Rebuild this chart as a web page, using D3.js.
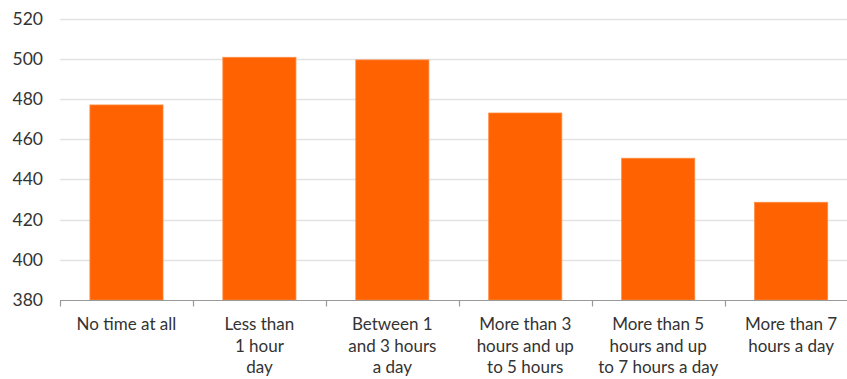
<!DOCTYPE html>
<html>
<head>
<meta charset="utf-8">
<script src="https://cdn.jsdelivr.net/npm/d3@7"></script>
<style>
html, body { margin: 0; padding: 0; background: #fff; overflow: hidden; }
svg { display: block; }
text { font-family: Lato, "Noto Sans", sans-serif; fill: #333; }
</style>
</head>
<body>
<script>
var width = 847, height = 379;
// Category labels, one array of lines per bar
var categories = [
	['No time at all'],
	['Less than', '1 hour', 'day'],
	['Between 1', 'and 3 hours', 'a day'],
	['More than 3', 'hours and up', 'to 5 hours'],
	['More than 5', 'hours and up', 'to 7 hours a day'],
	['More than 7', 'hours a day']
];
var values = [477, 500.7, 499.4, 473, 450.5, 428.6];
var yTicks = [380, 400, 420, 440, 460, 480, 500, 520];

//The plot runs a little past the right edge of the picture, as in the original.
var margin = {top: 18.5, left: 60, bottom: 79};
var plotRight = 857.6;
var innerHeight = height - margin.top - margin.bottom;

var svg = d3.select('body').append('svg')
	.attr('width', width)
	.attr('height', height);

var xScale = d3.scaleBand()
	.domain(d3.range(values.length))
	.range([margin.left, plotRight])
	.paddingInner(0.45)
	.paddingOuter(0.225);
var yScale = d3.scaleLinear()
	.domain([380, 520])
	.range([margin.top + innerHeight, margin.top]);

//Horizontal gridlines
svg.append('g').selectAll('line')
	.data(yTicks.slice(1))
	.enter().append('line')
	.attr('x1', margin.left)
	.attr('x2', width)
	.attr('y1', function(d) { return Math.round(yScale(d)) + 0.5; })
	.attr('y2', function(d) { return Math.round(yScale(d)) + 0.5; })
	.style('stroke', '#e2e2e2')
	.style('stroke-width', '1.5px');

//Y tick labels, no axis line
var yAxis = svg.append('g')
	.attr('transform', 'translate(' + margin.left + ',0)')
	.call(d3.axisLeft(yScale).tickValues(yTicks).tickSize(0).tickPadding(17));
yAxis.select('.domain').remove();
yAxis.selectAll('text')
	.style('font-size', '17.5px')
	.style('font-family', 'Lato, "Noto Sans", sans-serif')
	.style('fill', '#333');

//Bars
svg.append('g').selectAll('rect')
	.data(values)
	.enter().append('rect')
	.attr('x', function(d, i) { return xScale(i); })
	.attr('y', function(d) { return yScale(d); })
	.attr('width', xScale.bandwidth())
	.attr('height', function(d) { return yScale(380) - yScale(d); })
	.style('fill', '#ff6200')
	.style('stroke', '#ff8a40')
	.style('stroke-width', '0.8px');

//X axis line with tick marks at band boundaries
var baseY = Math.round(yScale(380)) + 0.5;
var step = xScale.step();
var bounds = d3.range(values.length + 1).map(function(i) { return margin.left + i * step; });
svg.append('line')
	.attr('x1', margin.left).attr('x2', width)
	.attr('y1', baseY).attr('y2', baseY)
	.style('stroke', '#999').style('stroke-width', '1.2px');
svg.append('g').selectAll('line')
	.data(bounds)
	.enter().append('line')
	.attr('x1', function(d) { return Math.round(d) + 0.5; })
	.attr('x2', function(d) { return Math.round(d) + 0.5; })
	.attr('y1', baseY).attr('y2', baseY + 6)
	.style('stroke', '#999').style('stroke-width', '1.2px');

//Category labels: one text element per line
var lines = [];
categories.forEach(function(c, i) {
	c.forEach(function(s, j) { lines.push({i: i, j: j, text: s}); });
});
svg.append('g').selectAll('text')
	.data(lines)
	.enter().append('text')
	.attr('text-anchor', 'middle')
	.style('font-size', '17px')
	.attr('x', function(d) { return xScale(d.i) + xScale.bandwidth() / 2; })
	.attr('y', function(d) { return 330 + d.j * 21.7; })
	.text(function(d) { return d.text; });
</script>
</body>
</html>
